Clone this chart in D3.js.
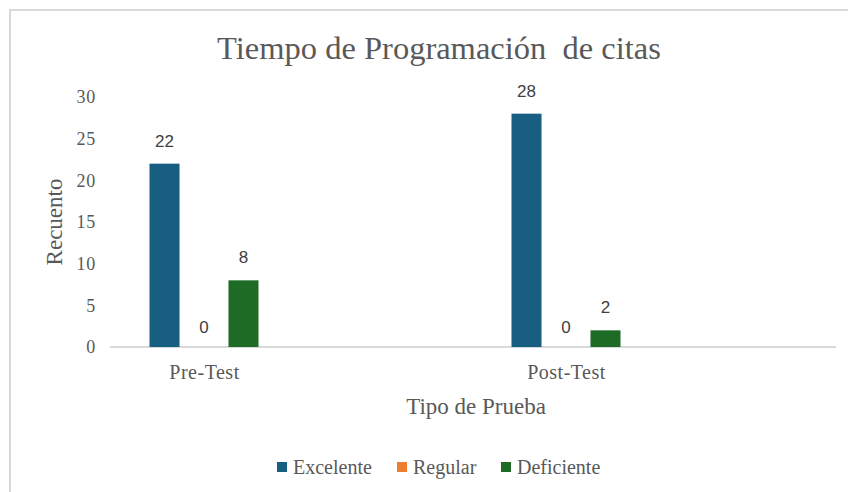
<!DOCTYPE html>
<html>
<head>
<meta charset="utf-8">
<script src="https://cdn.jsdelivr.net/npm/d3@7"></script>
<style>
  body { margin: 0; background: #fff; }
  text { white-space: pre; }
</style>
</head>
<body>
<svg id="chart" width="848" height="492"></svg>
<script>
// chart data
const categories = ["Pre-Test", "Post-Test"];
const seriesNames = ["Excelente", "Regular", "Deficiente"];
const excelente = [22, 28];
const regular = [0, 0];
const deficiente = [8, 2];
const yTicks = [0, 5, 10, 15, 20, 25, 30];

const colors = ["#175e82", "#ed7d31", "#1e6b26"];
const serif = "'Liberation Serif', 'Times New Roman', serif";
const sans = "'Liberation Sans', Arial, sans-serif";

const plot = {left: 110, right: 836, top: 97, bottom: 347};

const svg = d3.select("#chart");

// frame border
svg.append("path")
    .attr("d", "M10,492 L10,10 L848,10")
    .attr("fill", "none")
    .attr("stroke", "#d9d9d9")
    .attr("stroke-width", 2);

//scales
const x = d3.scalePoint().domain(categories).range([204, 566]);
const xs = d3.scaleBand().domain(seriesNames).range([-54.5, 54.5]).paddingInner(0.24);
const y = d3.scaleLinear().domain([0, 30]).range([plot.bottom, plot.top]);

const series = seriesNames.map((name, i) => ({
  name: name,
  color: colors[i],
  values: [excelente, regular, deficiente][i]
}));

// title
svg.append("text")
    .attr("x", 439).attr("y", 59)
    .attr("text-anchor", "middle")
    .attr("font-family", serif)
    .attr("font-size", 32.5)
    .attr("fill", "#595959")
    .text("Tiempo de Programación  de citas");

// y axis (labels only)
const yAxis = svg.append("g")
    .attr("transform", `translate(${plot.left - 14},0)`)
    .call(d3.axisLeft(y).tickValues(yTicks).tickSize(0).tickPadding(0));
yAxis.select(".domain").remove();
yAxis.selectAll("text")
    .attr("font-family", serif)
    .attr("font-size", 18)
    .attr("letter-spacing", 0.8)
    .attr("fill", "#595959");

// baseline
svg.append("line")
    .attr("x1", plot.left).attr("x2", plot.right)
    .attr("y1", y(0)).attr("y2", y(0))
    .attr("stroke", "#d9d9d9")
    .attr("stroke-width", 2);

// bars
const groups = svg.selectAll("g.cat")
  .data(categories)
  .join("g")
    .classed("cat", true)
    .attr("transform", d => `translate(${x(d)},0)`);

groups.each(function(cat, ci) {
  const g = d3.select(this);
  series.forEach(s => {
    const v = s.values[ci];
    g.append("rect")
        .attr("x", xs(s.name))
        .attr("width", xs.bandwidth())
        .attr("y", y(v))
        .attr("height", y(0) - y(v))
        .attr("fill", s.color);
    g.append("text")
        .attr("x", xs(s.name) + xs.bandwidth() / 2)
        .attr("y", y(v) - (v === 0 ? 14 : 17))
        .attr("text-anchor", "middle")
        .attr("font-family", sans)
        .attr("font-size", 17)
        .attr("fill", "#404040")
        .text(v);
  });
});

// category labels
const xAxis = svg.append("g")
    .attr("transform", `translate(0,379)`)
    .call(d3.axisBottom(x).tickSize(0).tickPadding(0));
xAxis.select(".domain").remove();
xAxis.selectAll("text")
    .attr("dy", 0)
    .attr("font-family", serif)
    .attr("font-size", 20)
    .attr("letter-spacing", 0.5)
    .attr("fill", "#595959");

// axis titles
svg.append("text")
    .attr("x", 476).attr("y", 414)
    .attr("text-anchor", "middle")
    .attr("font-family", serif)
    .attr("font-size", 23)
    .attr("fill", "#595959")
    .text("Tipo de Prueba");

svg.append("text")
    .attr("transform", "translate(62,222) rotate(-90)")
    .attr("text-anchor", "middle")
    .attr("font-family", serif)
    .attr("font-size", 23)
    .attr("fill", "#595959")
    .text("Recuento");

// legend
const legendX = [277, 397, 501];
const legend = svg.selectAll("g.legend")
  .data(series)
  .join("g")
    .classed("legend", true)
    .attr("transform", (d, i) => `translate(${legendX[i]},466)`);
legend.append("rect")
    .attr("x", 0).attr("y", -4)
    .attr("width", 10).attr("height", 10)
    .attr("fill", d => d.color);
legend.append("text")
    .attr("x", 16).attr("y", 8)
    .attr("font-family", serif)
    .attr("font-size", 20)
    .attr("fill", "#595959")
    .text(d => d.name);
</script>
</body>
</html>
